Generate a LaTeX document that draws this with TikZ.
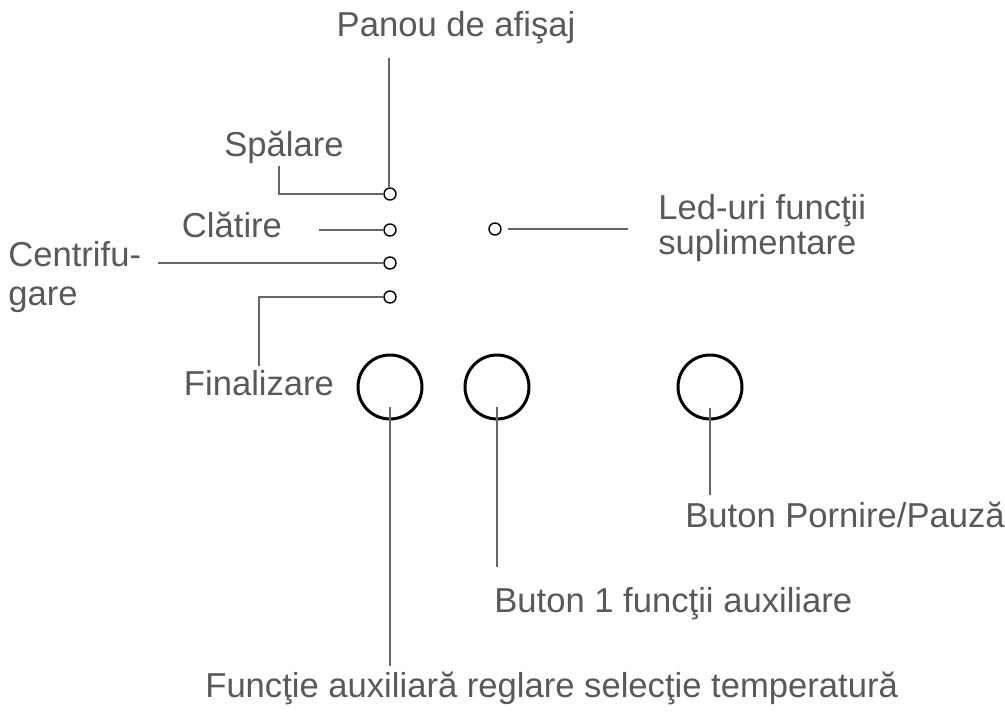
\documentclass[tikz,border=0pt]{standalone}
\usepackage{fontspec}
\setmainfont{Liberation Sans}
\definecolor{txt}{HTML}{595959}
\definecolor{ln}{HTML}{666666}
\begin{document}
\begin{tikzpicture}[x=0.02cm,y=-0.02cm,
  lbl/.style={text=txt,font=\fontsize{19.7}{22}\selectfont,inner sep=0pt},
  conn/.style={draw=ln,line width=1.1pt},
  led/.style={circle,draw=black,line width=0.8pt,minimum size=0.24cm,inner sep=0pt},
  btn/.style={circle,draw=black,line width=1.7pt,minimum size=1.28cm,inner sep=0pt}]
\useasboundingbox (0,0) rectangle (1005,713);
% small LEDs
\node[led] (l1) at (390,194) {};
\node[led] (l2) at (390,230) {};
\node[led] (l3) at (390,263) {};
\node[led] (l4) at (390,297) {};
\node[led] (l5) at (495,229) {};
% buttons
\node[btn] (b1) at (390,387) {};
\node[btn] (b2) at (497,387) {};
\node[btn] (b3) at (710,387) {};
% labels
\node[lbl,anchor=base] (panou) at (456,37) {Panou de afişaj};
\node[lbl,anchor=base] (spal) at (284,156) {Spălare};
\node[lbl,anchor=base] (clat) at (232,237) {Clătire};
\node[lbl,anchor=west,align=left,font=\fontsize{19.7}{22}\selectfont] (centr) at (8,277) {Centrifu-\\gare};
\node[lbl,anchor=base] (final) at (259,395) {Finalizare};
\node[lbl,anchor=west,align=left,font=\fontsize{19.7}{18.2}\selectfont] (ledt) at (658,228) {Led-uri funcţii\\suplimentare};
\node[lbl,anchor=base west] (bpp) at (685,527) {Buton Pornire/Pauză};
\node[lbl,anchor=base west] (b1t) at (494,612) {Buton 1 funcţii auxiliare};
\node[lbl,anchor=base west] (fct) at (205,697) {Funcţie auxiliară reglare selecţie temperatură};
% connector ends
\coordinate (pTop) at (389,58);
\coordinate (sTop) at (279,166);
\coordinate (cEnd) at (319,230);
\coordinate (ceEnd) at (158,263);
\coordinate (fEnd) at (259,366);
\coordinate (ledStart) at (508,229);
\coordinate (ledEnd) at (628,229);
\coordinate (b1in) at (390,407);
\coordinate (b2in) at (497,407);
\coordinate (b3in) at (710,408);
\coordinate (b1end) at (390,666);
\coordinate (b2end) at (497,567);
\coordinate (b3end) at (710,495);
% connectors
\draw[conn] (pTop) -- (l1.north -| pTop);
\draw[conn] (l1.west) -- (l1.west -| sTop) -- (sTop);
\draw[conn] (l2.west) -- (cEnd);
\draw[conn] (l3.west) -- (ceEnd);
\draw[conn] (l4.west) -- (l4.west -| fEnd) -- (fEnd);
\draw[conn] (ledStart) -- (ledEnd);
\draw[conn] (b1in) -- (b1end);
\draw[conn] (b2in) -- (b2end);
\draw[conn] (b3in) -- (b3end);
\end{tikzpicture}
\end{document}
